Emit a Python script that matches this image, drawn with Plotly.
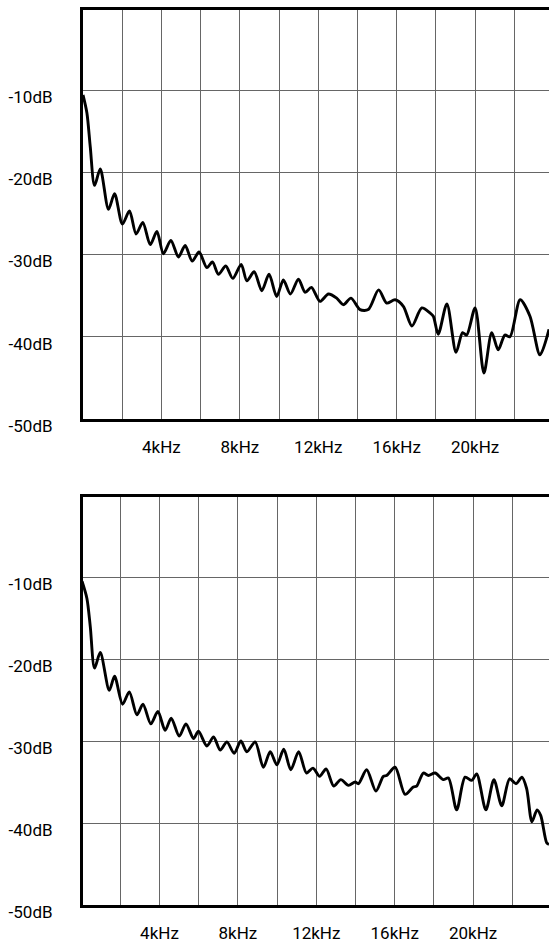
import plotly.graph_objects as go

# ---- data (frequency in kHz, level in dB) ----
top_khz = [0.0, 0.2, 0.37, 0.59, 0.88, 1.30, 1.61, 2.01, 2.37, 2.71, 3.05, 3.43, 3.77, 4.10,
           4.48, 4.87, 5.21, 5.57, 5.92, 6.32, 6.60, 6.91, 7.28, 7.64, 8.07, 8.36, 8.73, 9.12,
           9.49, 9.88, 10.22, 10.58, 10.99, 11.33, 11.65, 12.09, 12.52, 12.94, 13.28, 13.67,
           14.13, 14.55, 15.08, 15.49, 15.92, 16.34, 16.78, 17.28, 17.70, 17.87, 18.12, 18.56,
           19.03, 19.36, 19.57, 20.00, 20.45, 20.85, 21.18, 21.52, 21.78, 22.30, 22.80, 23.31,
           23.77]
top_db = [-10.6, -12.8, -16.9, -21.6, -19.6, -24.5, -22.6, -26.3, -24.7, -27.5, -26.1, -28.8,
          -27.2, -29.9, -28.3, -30.3, -28.9, -30.8, -29.7, -31.6, -30.9, -32.4, -31.4, -32.9,
          -31.2, -33.2, -32.1, -34.4, -32.4, -35.1, -33.1, -34.8, -33.0, -34.6, -34.0, -35.7,
          -34.8, -35.3, -36.1, -35.3, -36.7, -36.7, -34.3, -35.9, -35.5, -36.3, -38.7, -36.5,
          -37.1, -37.5, -39.7, -36.0, -41.9, -39.5, -39.8, -36.5, -44.4, -39.5, -41.6, -39.8,
          -40.0, -35.5, -37.5, -42.2, -39.1]

bot_khz = [0.05, 0.30, 0.47, 0.69, 0.98, 1.44, 1.71, 2.12, 2.46, 2.85, 3.16, 3.56, 3.92, 4.29,
           4.60, 5.01, 5.35, 5.74, 5.99, 6.42, 6.76, 7.10, 7.44, 7.81, 8.15, 8.46, 8.88, 9.30,
           9.65, 9.99, 10.34, 10.70, 11.10, 11.50, 11.83, 12.17, 12.50, 12.89, 13.25, 13.64,
           13.98, 14.15, 14.57, 15.04, 15.42, 15.59, 16.02, 16.53, 16.95, 17.12, 17.46, 17.72,
           18.06, 18.48, 18.74, 19.16, 19.59, 19.93, 20.18, 20.65, 21.06, 21.46, 21.86, 22.19,
           22.49, 22.73, 23.00, 23.26, 23.45, 23.75, 23.87]
bot_db = [-10.5, -12.6, -16.0, -21.1, -19.2, -23.8, -22.1, -25.5, -24.0, -26.8, -25.5, -27.9,
          -26.4, -28.7, -27.2, -29.4, -27.9, -29.7, -28.8, -30.6, -29.5, -31.1, -30.1, -31.5,
          -30.0, -31.3, -30.1, -33.2, -31.3, -32.9, -31.0, -33.5, -31.3, -33.9, -33.3, -34.3,
          -33.4, -35.5, -34.7, -35.4, -35.0, -35.2, -33.5, -36.1, -34.3, -34.2, -33.2, -36.5,
          -35.6, -35.5, -33.9, -34.2, -33.9, -34.7, -34.5, -38.4, -34.4, -34.8, -34.0, -38.4,
          -34.7, -37.9, -34.6, -35.2, -34.4, -35.8, -39.85, -38.4, -39.1, -42.4, -42.6]

x_tickvals = [2, 4, 6, 8, 10, 12, 14, 16, 18, 20, 22]
x_ticktext = ["", "4kHz", "", "8kHz", "", "12kHz", "", "16kHz", "", "20kHz", ""]
y_tickvals = [-50, -40, -30, -20, -10]
y_ticktext = ["-50dB", "-40dB", "-30dB", "-20dB", "-10dB"]

FONT = "Roboto, Liberation Sans, sans-serif"
GRID = "#666666"

fig = go.Figure()
line = dict(color="black", width=2.9, shape="spline", smoothing=0.8)
fig.add_trace(go.Scatter(x=top_khz, y=top_db, mode="lines", line=line, xaxis="x", yaxis="y",
                         hoverinfo="skip"))
fig.add_trace(go.Scatter(x=bot_khz, y=bot_db, mode="lines", line=line, xaxis="x2", yaxis="y2",
                         hoverinfo="skip"))

def xax(rng, anchor):
    return dict(range=rng, anchor=anchor, tickvals=x_tickvals, ticktext=x_ticktext,
                showgrid=True, gridcolor=GRID, gridwidth=1, zeroline=False,
                showline=True, linecolor="black", linewidth=3, mirror=True,
                automargin=False,
                ticks="", ticklabelstandoff=11, tickfont=dict(family=FONT, size=17, color="black"))

def yax(rng, dom, anchor):
    return dict(range=rng, domain=dom, anchor=anchor, tickvals=y_tickvals, ticktext=y_ticktext,
                showgrid=True, gridcolor=GRID, gridwidth=1, zeroline=False,
                showline=True, linecolor="black", linewidth=3, mirror=False,
                automargin=False,
                ticks="", ticklabelstandoff=24, ticklabelshift=7,
                tickfont=dict(family=FONT, size=17, color="black"))

fig.update_layout(
    width=549, height=942,
    margin=dict(l=83, r=0, t=0, b=0, pad=0),
    paper_bgcolor="white", plot_bgcolor="white",
    showlegend=False,
    xaxis=xax([0, 23.77], "y"),
    yaxis=yax([-50, -0.27], [0.5552, 0.9894], "x"),
    xaxis2=xax([0.1, 23.87], "y2"),
    yaxis2=yax([-50, -0.22], [0.0393, 0.4724], "x2"),
)

fig.write_html(
    "out.html",
    config={"displayModeBar": False},
    post_script="document.body.style.margin='0';document.body.style.overflow='hidden';",
)
